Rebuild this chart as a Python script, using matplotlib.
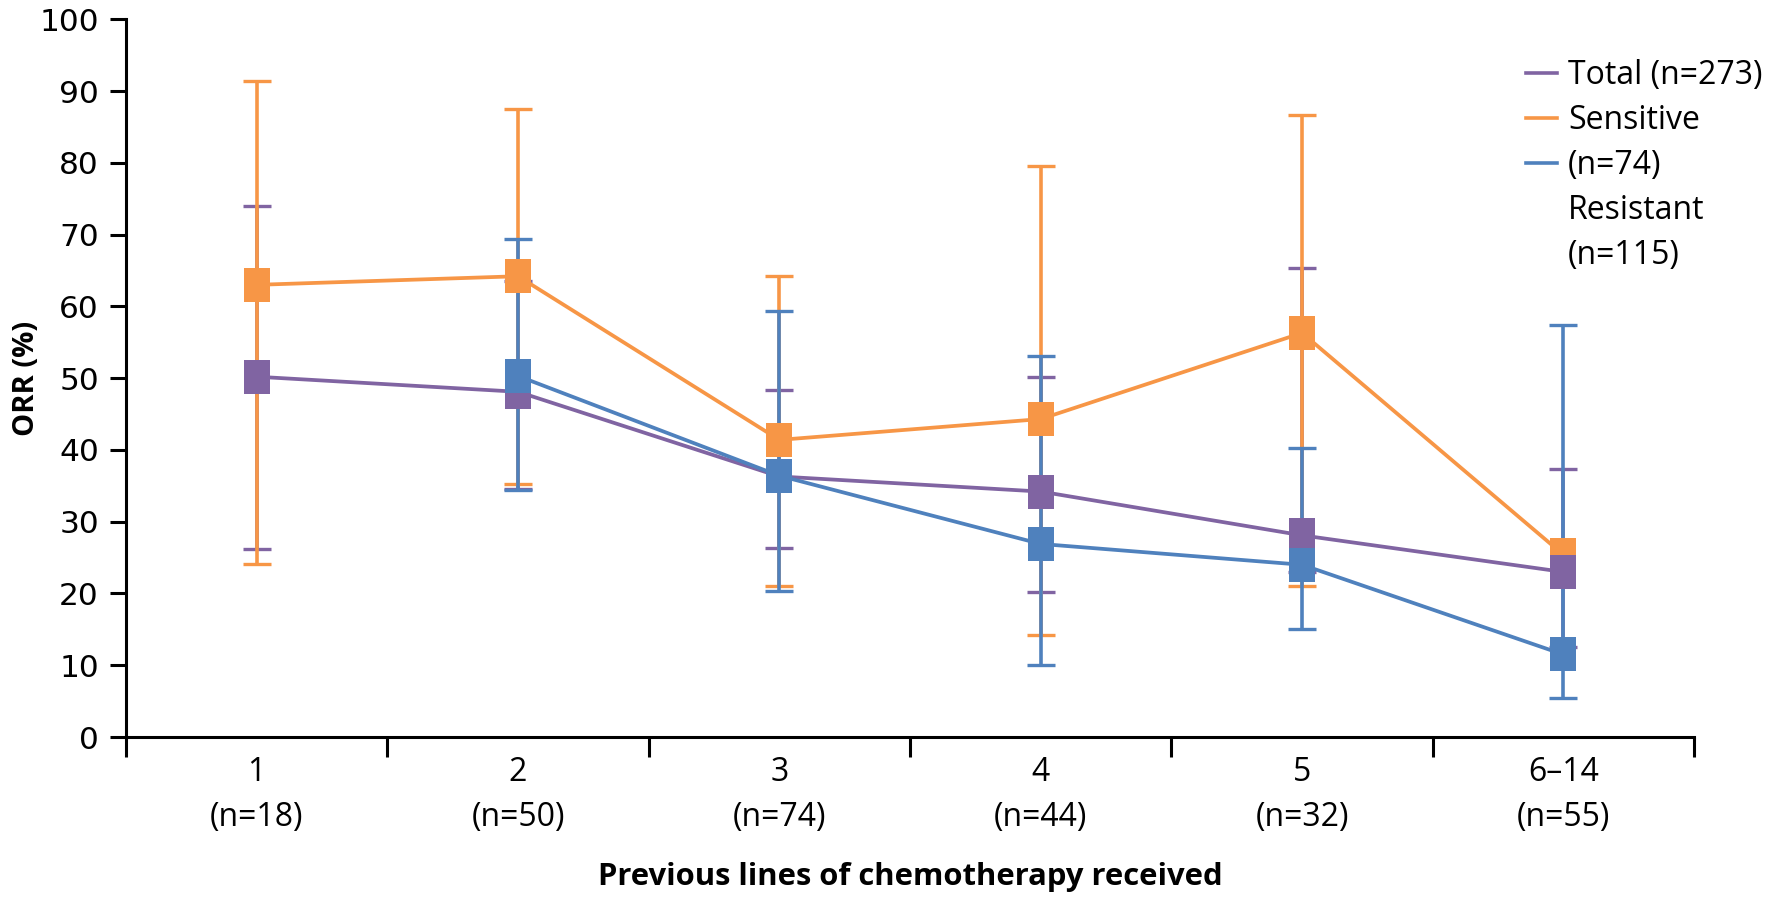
import numpy as np
import matplotlib
matplotlib.use('Agg')
import matplotlib.pyplot as plt
from matplotlib.lines import Line2D

plt.rcParams['font.family'] = ['Open Sans', 'DejaVu Sans']

# categories (previous lines of chemotherapy)
categories = ['1\n(n=18)', '2\n(n=50)', '3\n(n=74)', '4\n(n=44)', '5\n(n=32)', '6–14\n(n=55)']

# ORR (%) and confidence limits
total = [50.2, 48.1, 36.3, 34.2, 28.1, 23.0]
total_lo = [26.2, 34.5, 26.3, 20.2, 23.0, 12.5]
total_hi = [74.0, 63.5, 48.4, 50.1, 65.3, 37.4]

sensitive = [63.0, 64.2, 41.4, 44.3, 56.3, 25.4]
sensitive_lo = [24.1, 35.3, 21.0, 14.2, 21.0, np.nan]
sensitive_hi = [91.4, 87.5, 64.2, 79.6, 86.6, np.nan]

resistant = [np.nan, 50.3, 36.4, 26.9, 24.0, 11.5]
resistant_lo = [np.nan, 34.4, 20.3, 10.1, 15.1, 5.4]
resistant_hi = [np.nan, 69.4, 59.4, 53.1, 40.3, 57.4]

legend_labels = ['Total (n=273)', 'Sensitive', '(n=74)', 'Resistant', '(n=115)']

c_total = '#8064A2'
c_sens = '#F79646'
c_res = '#4F81BD'

# tall rectangular marker, like the original
rect = [(-0.758, -1), (0.758, -1), (0.758, 1), (-0.758, 1), (-0.758, -1)]

fig = plt.figure(figsize=(17.83, 9.01), dpi=100)
ax = fig.add_axes([0.0707, 0.182, 0.8794, 0.7966])

x = np.arange(len(categories))

series = [
    (total, total_lo, total_hi, c_total, 4),
    (sensitive, sensitive_lo, sensitive_hi, c_sens, 3),
    (resistant, resistant_lo, resistant_hi, c_res, 5),
]

# error bars first (purple, orange, blue), then lines + markers on top
for vals, lo, hi, col, z in series:
    v = np.array(vals)
    yerr = [v - np.array(lo), np.array(hi) - v]
    ok = ~np.isnan(yerr[0])
    ax.errorbar(x[ok], v[ok], yerr=[yerr[0][ok], yerr[1][ok]], fmt='none', ecolor=col,
                elinewidth=2.6, capsize=10, capthick=2.4, zorder=2)

for vals, lo, hi, col, z in series:
    ax.plot(x, vals, color=col, linewidth=2.7, marker=rect, markersize=23.8,
            markeredgewidth=0, markerfacecolor=col, zorder=z)

ax.set_xlim(-0.5, 5.5)
ax.set_ylim(0, 100)
ax.set_yticks(np.arange(0, 101, 10))
ax.set_xticks(x)
ax.set_xticklabels(categories, fontsize=23, linespacing=1.48)
ax.set_xticks(np.arange(-0.5, 6, 1), minor=True)

ax.tick_params(axis='x', which='major', length=0, pad=14)
ax.tick_params(axis='x', which='minor', length=14.5, width=2.2, direction='out')
ax.tick_params(axis='y', length=11.5, width=2.2, pad=8, labelsize=22.5,
               labelfontfamily='DejaVu Sans')

for s in ['top', 'right']:
    ax.spines[s].set_visible(False)
for s in ['left', 'bottom']:
    ax.spines[s].set_linewidth(2.2)
    ax.spines[s].set_color('black')

ax.set_ylabel('ORR (%)', fontsize=21, fontweight='bold')
ax.yaxis.set_label_coords(-0.054, 0.5)
ax.set_xlabel('Previous lines of chemotherapy received', fontsize=22.3, fontweight='bold', labelpad=20)

handles = [Line2D([], [], color=c_total, linewidth=2.6),
           Line2D([], [], color=c_sens, linewidth=2.6),
           Line2D([], [], color=c_res, linewidth=2.6),
           Line2D([], [], color='none'),
           Line2D([], [], color='none')]
fig.legend(handles, legend_labels, loc='upper left', bbox_to_anchor=(0.856, 0.934),
           frameon=False, fontsize=23, handlelength=0.97, handletextpad=0.34,
           labelspacing=0.37, borderpad=0, borderaxespad=0)

fig.savefig('out.png', dpi=100)
